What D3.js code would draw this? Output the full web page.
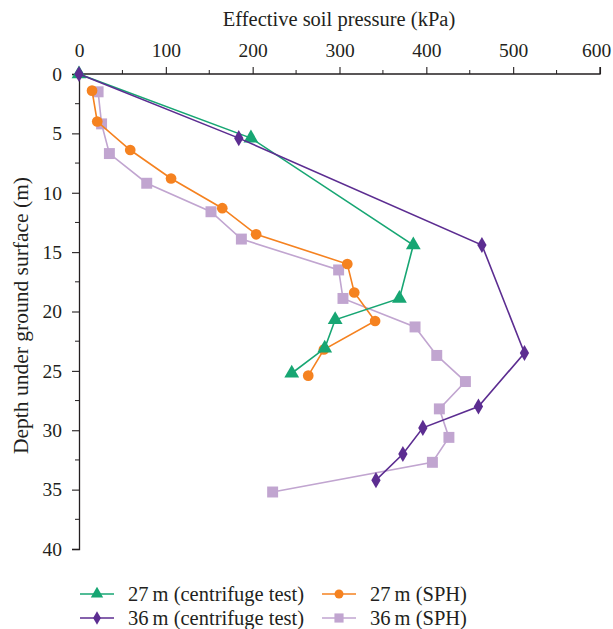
<!doctype html>
<html lang="en">
<head>
    <meta charset="utf-8">
    <title>Effective soil pressure</title>
    <script src="https://d3js.org/d3.v7.min.js"></script>
    <style>
        body { margin: 0; background: white; }
        svg text {
            font-family: "Liberation Serif", "Times New Roman", Tinos, "DejaVu Serif", "Noto Serif", serif;
            fill: #231f20;
        }
    </style>
</head>
<body>
    <div id="chart"></div>
    <script>
        // Data: depth (m) and effective soil pressure (kPa)
        var c27Depth    = [0, 5.4, 14.4, 18.9, 20.7, 23.1, 25.2];
        var c27Pressure = [0, 198, 385, 369, 295, 283, 245];

        var s27Depth    = [1.4, 4.0, 6.4, 8.8, 11.3, 13.5, 16.0, 18.4, 20.8, 23.2, 25.4];
        var s27Pressure = [15, 21, 59, 106, 165, 204, 309, 317, 341, 282, 264];

        var c36Depth    = [0, 5.4, 14.4, 23.5, 28.0, 29.8, 32.0, 34.2];
        var c36Pressure = [0, 184, 464, 513, 460, 396, 373, 342];

        var s36Depth    = [1.5, 4.2, 6.7, 9.2, 11.6, 13.9, 16.5, 18.9, 21.3, 23.7, 25.9, 28.2, 30.6, 32.7, 35.2];
        var s36Pressure = [22, 26, 35, 78, 152, 187, 299, 304, 387, 412, 445, 415, 426, 407, 223];

        var xTicks = [0, 100, 200, 300, 400, 500, 600];
        var yTicks = [0, 5, 10, 15, 20, 25, 30, 35, 40];

        var seriesNames = ["27\u2009m (centrifuge test)", "27\u2009m (SPH)", "36\u2009m (centrifuge test)", "36\u2009m (SPH)"];

        // Chart size
        var width  = 613;
        var height = 629;
        var margin = { top: 74, left: 79, right: 12, bottom: 80 };

        var svg = d3.select("#chart")
            .append("svg")
            .attr("width", width)
            .attr("height", height);

        var x = d3.scaleLinear().domain([0, 600]).range([margin.left, 600]);
        var y = d3.scaleLinear().domain([0, 40]).range([margin.top, 549]);

        // Axes (x on top)
        var xAxis = svg.append("g")
            .attr("transform", "translate(0," + margin.top + ")")
            .call(d3.axisTop(x).tickValues(xTicks).tickSize(7).tickPadding(10).tickFormat(d3.format("d")));
        xAxis.append("g").selectAll("line")
            .data(d3.range(50, 600, 100))
            .enter().append("line")
            .attr("x1", function(d) { return x(d); })
            .attr("x2", function(d) { return x(d); })
            .attr("y1", 0).attr("y2", -4)
            .attr("stroke", "#231f20");

        var yAxis = svg.append("g")
            .attr("transform", "translate(" + margin.left + ",0)")
            .call(d3.axisLeft(y).tickValues(yTicks).tickSize(7).tickPadding(10).tickFormat(d3.format("d")));
        yAxis.append("g").selectAll("line")
            .data(d3.range(2.5, 40, 5))
            .enter().append("line")
            .attr("y1", function(d) { return y(d); })
            .attr("y2", function(d) { return y(d); })
            .attr("x1", 0).attr("x2", -4)
            .attr("stroke", "#231f20");

        svg.selectAll(".domain").attr("stroke", "#231f20").attr("stroke-width", 1.3);
        svg.selectAll(".tick line").attr("stroke", "#231f20").attr("stroke-width", 1.1);
        svg.selectAll(".tick text").attr("font-size", 19.5).attr("fill", "#231f20");
        // keep the last label inside the window
        xAxis.selectAll(".tick text").filter(function(d) { return d === 600; }).attr("dx", -4);
        xAxis.selectAll(".domain").attr("d", "M" + margin.left + ",0H600V-7");

        // Axis titles
        svg.append("text")
            .attr("x", 339)
            .attr("y", 26)
            .attr("text-anchor", "middle")
            .attr("font-size", 20.5)
            .text("Effective soil pressure (kPa)");

        svg.append("text")
            .attr("transform", "translate(28," + ((y(0) + y(40)) / 2 + 4) + ") rotate(-90)")
            .attr("text-anchor", "middle")
            .attr("font-size", 21.5)
            .text("Depth under ground surface (m)");

        // Series
        var series = [
            { name: seriesNames[0], depth: c27Depth, pressure: c27Pressure, color: "#17a673", shape: d3.symbolTriangle, size: 95 },
            { name: seriesNames[2], depth: c36Depth, pressure: c36Pressure, color: "#5c2d91", shape: d3.symbolDiamond, size: 75 },
            { name: seriesNames[1], depth: s27Depth, pressure: s27Pressure, color: "#f58220", shape: d3.symbolCircle, size: 90 },
            { name: seriesNames[3], depth: s36Depth, pressure: s36Pressure, color: "#c1a5d0", shape: d3.symbolSquare, size: 120 }
        ];
        var drawOrder = [3, 2, 0, 1];

        var line = d3.line()
            .x(function(d) { return x(d[1]); })
            .y(function(d) { return y(d[0]); });

        drawOrder.forEach(function(i) {
            var s = series[i];
            var pts = s.depth.map(function(d, j) { return [d, s.pressure[j]]; });

            svg.append("path")
                .datum(pts)
                .attr("fill", "none")
                .attr("stroke", s.color)
                .attr("stroke-width", 1.6)
                .attr("d", line);

            svg.append("g").selectAll("path")
                .data(pts)
                .enter().append("path")
                .attr("transform", function(d) { return "translate(" + x(d[1]) + "," + y(d[0]) + ")"; })
                .attr("d", d3.symbol().type(s.shape).size(s.size))
                .attr("fill", s.color);
        });

        // Legend
        var legendPos = [[80, 594], [322, 594], [80, 618], [322, 618]];
        var legendOrder = [0, 2, 1, 3];
        legendOrder.forEach(function(i, k) {
            var s = series[i];
            var p = legendPos[k];
            var g = svg.append("g").attr("transform", "translate(" + p[0] + "," + p[1] + ")");
            g.append("line")
                .attr("x1", 0).attr("x2", 34)
                .attr("stroke", s.color).attr("stroke-width", 1.6);
            g.append("path")
                .attr("transform", "translate(17,0)")
                .attr("d", d3.symbol().type(s.shape).size(s.size * 0.7))
                .attr("fill", s.color);
            g.append("text")
                .attr("x", 48)
                .attr("dy", "0.35em")
                .attr("font-size", 20.5)
                .text(s.name);
        });
    </script>
</body>
</html>
